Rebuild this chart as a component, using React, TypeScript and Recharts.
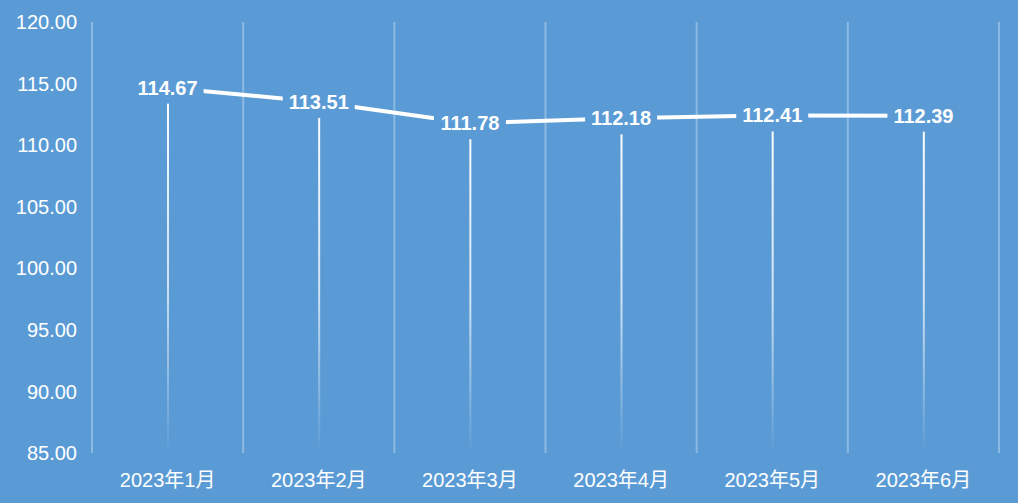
import {
  Bar,
  CartesianGrid,
  ComposedChart,
  LabelList,
  Line,
  XAxis,
  YAxis,
} from "recharts";

const months = ["2023年1月", "2023年2月", "2023年3月", "2023年4月", "2023年5月", "2023年6月"];
const values = [114.67, 113.51, 111.78, 112.18, 112.41, 112.39];
const yTicks = [85, 90, 95, 100, 105, 110, 115, 120];

const data = months.map((month, i) => ({ month, value: values[i] }));

const BG = "#5B9BD5";
const FONT = "'Liberation Sans', 'Noto Sans CJK SC', sans-serif";

// Excel-style data label: centred on the point with a background-coloured box
function ValueLabel(props: any) {
  const { x, y, width, value } = props;
  const cx = x + (width ?? 0) / 2;
  return (
    <g>
      <rect x={cx - 36} y={y - 16} width={72} height={32} fill={BG} />
      <text
        x={cx}
        y={y}
        dy={7}
        textAnchor="middle"
        fill="#fff"
        fontWeight="bold"
        fontSize={20}
        fontFamily={FONT}
      >
        {Number(value).toFixed(2)}
      </text>
    </g>
  );
}

export default function App() {
  return (
    <div style={{ position: "fixed", left: 0, top: 0, width: 1018, height: 503, background: BG }}>
      <ComposedChart
        width={1018}
        height={503}
        data={data}
        margin={{ top: 22, right: 19, bottom: 0, left: 0 }}
      >
        <defs>
          <linearGradient id="dropFade" x1="0" y1="0" x2="0" y2="1">
            <stop offset="0%" stopColor="#fff" stopOpacity={1} />
            <stop offset="55%" stopColor="#fff" stopOpacity={0.7} />
            <stop offset="100%" stopColor="#fff" stopOpacity={0} />
          </linearGradient>
        </defs>
        <CartesianGrid
          horizontal={false}
          stroke="rgba(255,255,255,0.3)"
          strokeWidth={2}
          verticalCoordinatesGenerator={({ offset }: any) =>
            months.map((_, i) => offset.left + (i * offset.width) / months.length).concat(offset.left + offset.width)
          }
        />
        <XAxis
          dataKey="month"
          axisLine={false}
          tickLine={false}
          height={50}
          tick={{ fill: "#fff", fontSize: 20, fontFamily: FONT }}
          dy={12}
        />
        <YAxis
          domain={[85, 120]}
          ticks={yTicks}
          axisLine={false}
          tickLine={false}
          width={92}
          tickFormatter={(v: number) => v.toFixed(2)}
          tick={{ fill: "#fff", fontSize: 20, fontFamily: FONT }}
          dx={-7}
        />
        <Bar dataKey="value" barSize={2} fill="url(#dropFade)" isAnimationActive={false} />
        <Line
          dataKey="value"
          type="linear"
          stroke="#fff"
          strokeWidth={4}
          dot={false}
          activeDot={false}
          isAnimationActive={false}
        >
          <LabelList dataKey="value" content={<ValueLabel />} />
        </Line>
      </ComposedChart>
    </div>
  );
}
